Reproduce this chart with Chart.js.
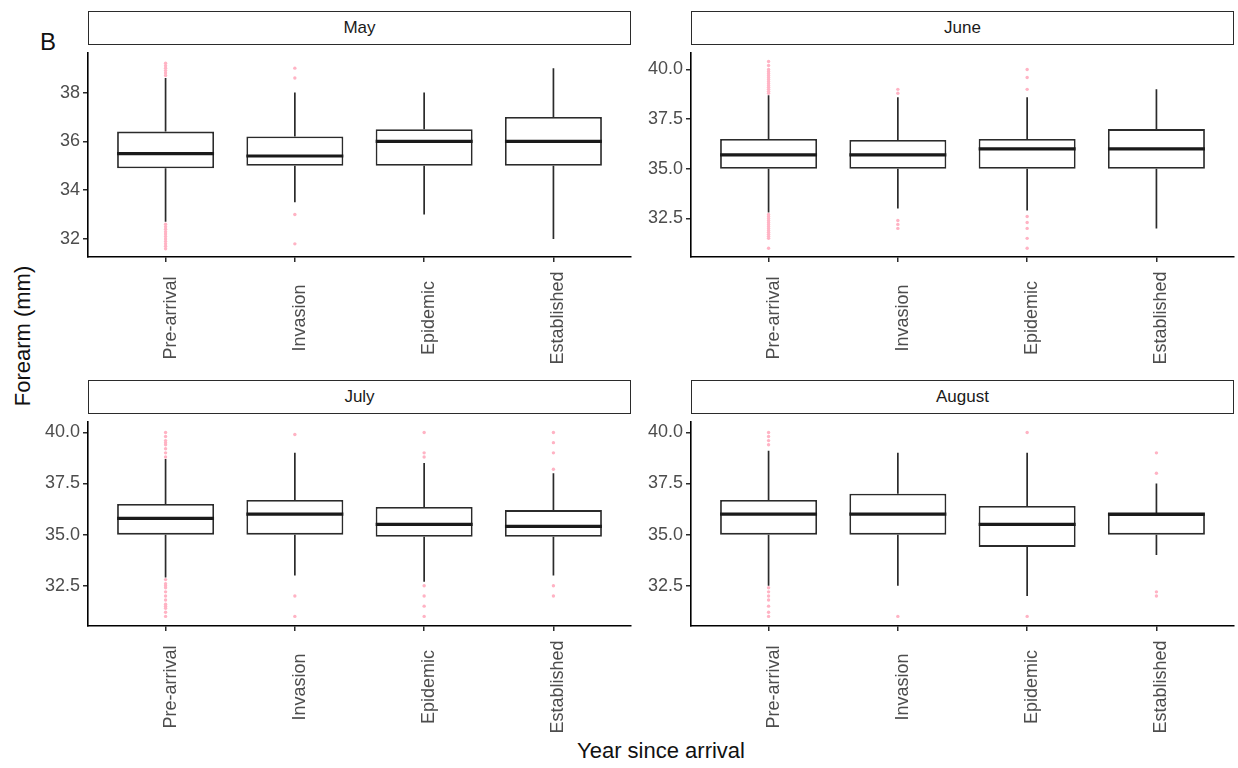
<!DOCTYPE html>
<html>
<head>
<meta charset="utf-8">
<script src="https://cdn.jsdelivr.net/npm/chart.js@4.4.1/dist/chart.umd.min.js"></script>
<style>
  body { margin: 0; background: #fff; font-family: 'Liberation Sans', Arial, sans-serif; }
  #fig { position: relative; width: 1238px; height: 768px; overflow: hidden; background: #fff; }
  canvas { position: absolute; }
  .strip {
    position: absolute; box-sizing: border-box; height: 34px;
    border: 1.6px solid #2b2b2b; background: #fff;
    font-size: 17px; color: #1a1a1a; text-align: center; line-height: 31px;
  }
  .tag { position: absolute; left: 40px; top: 28px; font-size: 24px; color: #111; }
  .ylab {
    position: absolute; left: 23px; top: 336px; font-size: 22px; color: #111;
    transform: translate(-50%, -50%) rotate(-90deg); white-space: nowrap;
  }
  .xlab {
    position: absolute; left: 661px; top: 751px; font-size: 22px; color: #111;
    transform: translate(-50%, -50%); white-space: nowrap;
  }
</style>
</head>
<body>
<div id="fig">
  <div class="tag">B</div>
  <div class="ylab">Forearm (mm)</div>
  <div class="xlab">Year since arrival</div>
</div>
<script>
const CATEGORIES = ['Pre-arrival', 'Invasion', 'Epidemic', 'Established']
const MONTHS = ['May', 'June', 'July', 'August']

// one row per month, one value per category
const LOWER = [
  [32.7, 33.5, 33.0, 32.0],
  [32.8, 33.0, 32.9, 32.0],
  [32.9, 33.0, 32.7, 33.0],
  [32.5, 32.5, 32.0, 34.0]
]
const Q1 = [
  [34.9, 35.0, 35.0, 35.0],
  [35.0, 35.0, 35.0, 35.0],
  [35.0, 35.0, 34.9, 34.9],
  [35.0, 35.0, 34.4, 35.0]
]
const MEDIAN = [
  [35.5, 35.4, 36.0, 36.0],
  [35.7, 35.7, 36.0, 36.0],
  [35.8, 36.0, 35.5, 35.4],
  [36.0, 36.0, 35.5, 36.0]
]
const Q3 = [
  [36.4, 36.2, 36.5, 37.0],
  [36.5, 36.45, 36.5, 37.0],
  [36.5, 36.7, 36.35, 36.2],
  [36.7, 37.0, 36.4, 36.0]
]
const UPPER = [
  [38.6, 38.0, 38.0, 39.0],
  [38.7, 38.6, 38.6, 39.0],
  [38.7, 39.0, 38.5, 38.0],
  [39.1, 39.0, 39.0, 37.5]
]

const OUTLIERS_MAY = [
  [38.7, 38.8, 38.9, 39.0, 39.1, 39.2, 32.6, 32.5, 32.4, 32.3, 32.2, 32.1, 32.0, 31.9, 31.8, 31.7, 31.6],
  [39.0, 38.6, 33.0, 31.8],
  [],
  []
]
const OUTLIERS_JUNE = [
  [38.8, 38.9, 39.0, 39.1, 39.2, 39.3, 39.4, 39.5, 39.6, 39.7, 39.8, 39.9, 40.0, 40.2, 40.4,
   32.7, 32.6, 32.5, 32.4, 32.3, 32.2, 32.1, 32.0, 31.9, 31.8, 31.7, 31.6, 31.5, 31.0],
  [39.0, 38.8, 32.4, 32.2, 32.0],
  [40.0, 39.6, 39.0, 32.6, 32.3, 32.0, 31.5, 31.0],
  []
]
const OUTLIERS_JULY = [
  [40.0, 39.8, 39.6, 39.5, 39.4, 39.2, 39.0, 38.8,
   32.8, 32.6, 32.5, 32.4, 32.2, 32.0, 31.8, 31.6, 31.5, 31.4, 31.2, 31.0],
  [39.9, 32.0, 31.0],
  [40.0, 39.0, 38.8, 32.5, 32.0, 31.5, 31.0],
  [40.0, 39.5, 39.0, 38.2, 32.5, 32.0]
]
const OUTLIERS_AUGUST = [
  [40.0, 39.8, 39.6, 39.4, 32.4, 32.2, 32.0, 31.8, 31.5, 31.2, 31.0],
  [31.0],
  [40.0, 31.0],
  [39.0, 38.0, 32.2, 32.0]
]
const OUTLIERS = [OUTLIERS_MAY, OUTLIERS_JUNE, OUTLIERS_JULY, OUTLIERS_AUGUST]

const Y_RANGE = [[31.26, 39.63], [30.56, 40.84], [30.53, 40.52], [30.53, 40.52]]
const Y_TICKS = [[32, 34, 36, 38], [32.5, 35, 37.5, 40], [32.5, 35, 37.5, 40], [32.5, 35, 37.5, 40]]
const Y_TICK_LABELS = [
  ['32', '34', '36', '38'],
  ['32.5', '35.0', '37.5', '40.0'],
  ['32.5', '35.0', '37.5', '40.0'],
  ['32.5', '35.0', '37.5', '40.0']
]

// layout
const FONT = "'Liberation Sans', Arial, sans-serif"
const PANEL_LEFT = [88, 691, 88, 691]
const PANEL_TOP = [45, 45, 414, 414]
const PANEL_W = 543
const PANEL_H = 212
const AXIS_W = 60
const AXIS_H = 110
const PAD = 6
const BOX_WIDTH = 0.75
const INK = '#2b2b2b'
const PINK = '#ffb3c4'

// ggplot centres rotated labels on the tick; chart.js right-aligns them
const centeredXLabels = {
  id: 'centeredXLabels',
  afterDraw(chart) {
    const xs = chart.scales.x
    const ctx = chart.ctx
    ctx.save()
    ctx.font = '18px ' + FONT
    ctx.fillStyle = '#4d4d4d'
    ctx.textAlign = 'center'
    ctx.textBaseline = 'middle'
    CATEGORIES.forEach((c, i) => {
      ctx.save()
      ctx.translate(xs.getPixelForValue(i + 1) + 5, xs.top + 61)
      ctx.rotate(-Math.PI / 2)
      ctx.fillText(c, 0, 0)
      ctx.restore()
    })
    ctx.restore()
  }
}

function makePanel(m) {
  const fig = document.getElementById('fig')

  const strip = document.createElement('div')
  strip.className = 'strip'
  strip.style.left = PANEL_LEFT[m] + 'px'
  strip.style.top = (PANEL_TOP[m] - 34) + 'px'
  strip.style.width = PANEL_W + 'px'
  strip.textContent = MONTHS[m]

  const canvas = document.createElement('canvas')
  canvas.width = AXIS_W + PANEL_W + PAD
  canvas.height = PAD + PANEL_H + AXIS_H
  canvas.style.left = (PANEL_LEFT[m] - AXIS_W) + 'px'
  canvas.style.top = (PANEL_TOP[m] - PAD) + 'px'
  fig.appendChild(canvas)
  fig.appendChild(strip)

  const boxes = [], whiskers = [], medians = [], points = []
  CATEGORIES.forEach((_, i) => {
    const x = i + 1
    boxes.push({ x, y: [Q1[m][i], Q3[m][i]] })
    whiskers.push(
      { x, y: LOWER[m][i] }, { x, y: Q1[m][i] }, { x, y: null },
      { x, y: Q3[m][i] }, { x, y: UPPER[m][i] }, { x, y: null }
    )
    medians.push(
      { x: x - BOX_WIDTH / 2, y: MEDIAN[m][i] },
      { x: x + BOX_WIDTH / 2, y: MEDIAN[m][i] },
      { x: x + BOX_WIDTH / 2, y: null }
    )
    OUTLIERS[m][i].forEach((v) => points.push({ x, y: v }))
  })

  new Chart(canvas, {
    type: 'bar',
    data: {
      datasets: [
        {
          type: 'line', data: whiskers, order: 3,
          borderColor: INK, borderWidth: 1.7, pointRadius: 0, spanGaps: false
        },
        {
          type: 'bar', data: boxes, order: 2,
          backgroundColor: '#fff', borderColor: INK, borderWidth: 1.8,
          borderSkipped: false, categoryPercentage: BOX_WIDTH, barPercentage: 1
        },
        {
          type: 'line', data: medians, order: 1,
          borderColor: '#1a1a1a', borderWidth: 3.2, pointRadius: 0, spanGaps: false
        },
        {
          type: 'scatter', data: points, order: 0,
          backgroundColor: PINK, borderWidth: 0, pointRadius: 1.7
        }
      ]
    },
    options: {
      responsive: false,
      animation: false,
      devicePixelRatio: 1,
      layout: { padding: { left: 0, top: PAD, right: PAD, bottom: 0 } },
      plugins: { legend: { display: false }, tooltip: { enabled: false } },
      scales: {
        x: {
          type: 'linear', min: 0.4, max: 4.6, offset: false,
          afterBuildTicks: (s) => { s.ticks = CATEGORIES.map((_, i) => ({ value: i + 1 })) },
          afterFit: (s) => { s.height = AXIS_H },
          ticks: { display: false },
          grid: { offset: false, drawOnChartArea: false, tickLength: 5, color: INK, lineWidth: 1.5 },
          border: { color: '#000', width: 1.6 }
        },
        y: {
          min: Y_RANGE[m][0], max: Y_RANGE[m][1],
          afterBuildTicks: (s) => { s.ticks = Y_TICKS[m].map((v) => ({ value: v })) },
          afterFit: (s) => { s.width = AXIS_W },
          ticks: {
            callback: (v, idx) => Y_TICK_LABELS[m][idx],
            color: '#4d4d4d', padding: 3,
            font: { size: 18, family: FONT }
          },
          grid: { drawOnChartArea: false, tickLength: 5, color: INK, lineWidth: 1.5 },
          border: { color: '#000', width: 1.6 }
        }
      }
    },
    plugins: [centeredXLabels]
  })
}

MONTHS.forEach((_, m) => makePanel(m))
</script>
</body>
</html>
